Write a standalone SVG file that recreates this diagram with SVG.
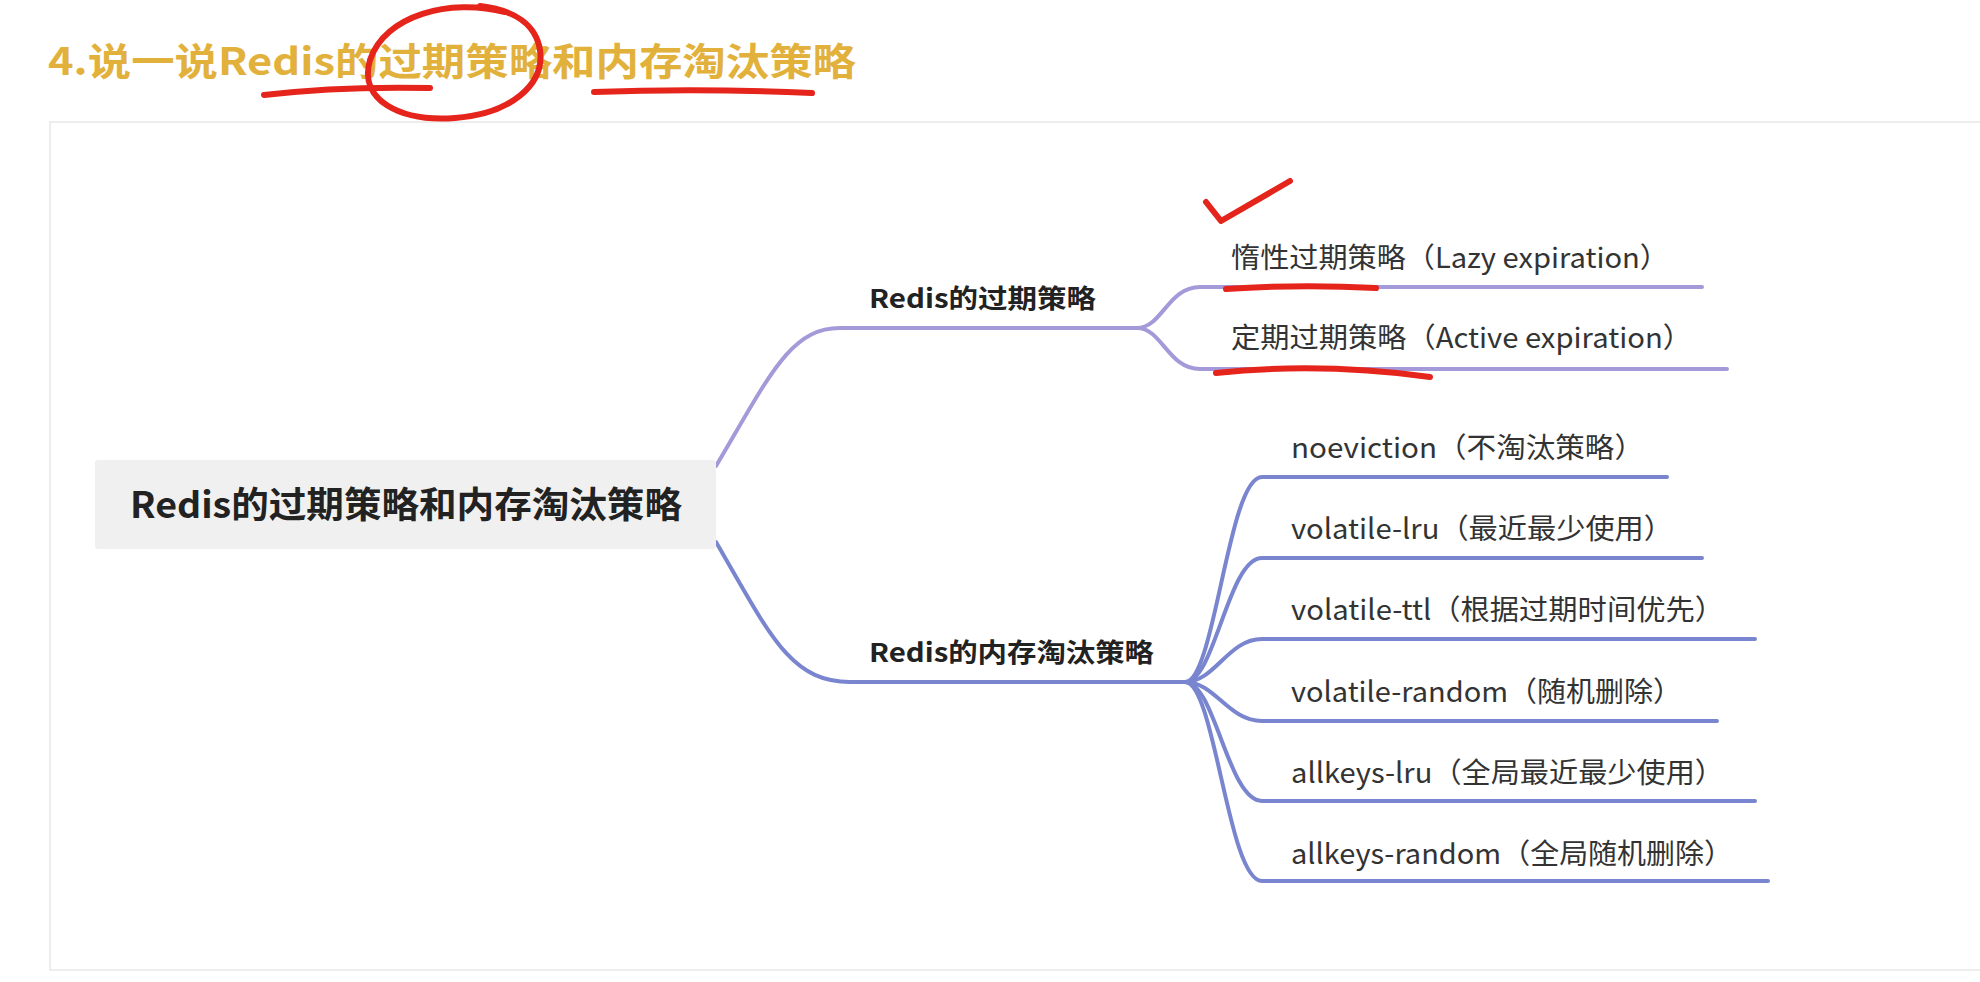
<svg xmlns="http://www.w3.org/2000/svg" width="1980" height="982" viewBox="0 0 1980 982">
<defs>
<style>
.title{font-family:"Noto Sans CJK SC","Noto Sans",sans-serif;font-weight:bold;fill:#e2b13c;font-size:38px}
.root{font-family:"Noto Sans CJK SC","Noto Sans",sans-serif;font-weight:bold;fill:#222;font-size:36px}
.main{font-family:"Noto Sans CJK SC","Noto Sans",sans-serif;font-weight:bold;fill:#222;font-size:26px}
.sub{font-family:"Noto Sans CJK SC","Noto Sans",sans-serif;fill:#333;font-size:28px}
.c1{fill:none;stroke:#a59ad9;stroke-width:4;stroke-linecap:round}
.c2{fill:none;stroke:#7985cf;stroke-width:4;stroke-linecap:round}
.red{fill:none;stroke:#e5241c;stroke-width:6;stroke-linecap:round;stroke-linejoin:round}
</style>
</defs>
<rect x="0" y="0" width="1980" height="982" fill="#ffffff"/>
<rect x="50" y="122" width="1960" height="848" fill="#ffffff" stroke="#e8e8e8" stroke-width="1.5"/>
<text class="title" x="48" y="75" textLength="808" lengthAdjust="spacingAndGlyphs">4.说一说Redis的过期策略和内存淘汰策略</text>

<g id="connectors">
<path class="c1" d="M716 466 C770 375 790 328 840 328 H1137"/>
<path class="c1" d="M1137 328 C1162 328 1168 287 1200 287 H1702"/>
<path class="c1" d="M1137 328 C1162 328 1168 369 1200 369 H1727"/>
<path class="c2" d="M716 542 C770 635 790 682 850 682 H1185"/>
<path class="c2" d="M1185 682 C1215 682 1228 477 1262 477 H1667"/>
<path class="c2" d="M1185 682 C1215 682 1228 558 1262 558 H1702"/>
<path class="c2" d="M1185 682 C1215 682 1228 639 1262 639 H1755"/>
<path class="c2" d="M1185 682 C1215 682 1228 721 1262 721 H1717"/>
<path class="c2" d="M1185 682 C1215 682 1228 801 1262 801 H1755"/>
<path class="c2" d="M1185 682 C1215 682 1228 881 1262 881 H1768"/>
</g>

<g id="root">
<rect x="95" y="460" width="621" height="89" rx="3" fill="#f0f0f0"/>
<text class="root" x="130" y="518" textLength="552" lengthAdjust="spacingAndGlyphs">Redis的过期策略和内存淘汰策略</text>
</g>
<g id="expire">
<text class="main" x="869" y="308" textLength="227" lengthAdjust="spacingAndGlyphs">Redis的过期策略</text>
</g>
<g id="eviction">
<text class="main" x="869" y="662" textLength="285" lengthAdjust="spacingAndGlyphs">Redis的内存淘汰策略</text>
</g>
<g id="lazy"><text class="sub" x="1231" y="268" textLength="438" lengthAdjust="spacingAndGlyphs">惰性过期策略（Lazy expiration）</text></g>
<g id="active"><text class="sub" x="1231" y="348" textLength="461" lengthAdjust="spacingAndGlyphs">定期过期策略（Active expiration）</text></g>
<g id="noeviction"><text class="sub" x="1291" y="458" textLength="353" lengthAdjust="spacingAndGlyphs">noeviction（不淘汰策略）</text></g>
<g id="vlru"><text class="sub" x="1291" y="539" textLength="382" lengthAdjust="spacingAndGlyphs">volatile-lru（最近最少使用）</text></g>
<g id="vttl"><text class="sub" x="1291" y="620" textLength="433" lengthAdjust="spacingAndGlyphs">volatile-ttl（根据过期时间优先）</text></g>
<g id="vrandom"><text class="sub" x="1291" y="702" textLength="391" lengthAdjust="spacingAndGlyphs">volatile-random（随机删除）</text></g>
<g id="alru"><text class="sub" x="1291" y="783" textLength="433" lengthAdjust="spacingAndGlyphs">allkeys-lru（全局最近最少使用）</text></g>
<g id="arandom"><text class="sub" x="1291" y="864" textLength="442" lengthAdjust="spacingAndGlyphs">allkeys-random（全局随机删除）</text></g>

<g id="annotations">
<path class="red" d="M264 95 Q340 86 430 88"/>
<path class="red" d="M505 12 C450 -2 385 15 370 60 C358 100 400 122 455 118 C510 114 545 85 540 50 C536 25 515 10 480 6"/>
<path class="red" d="M594 92 Q700 88 812 93"/>
<path class="red" d="M1206 202 L1221 221 L1290 181"/>
<path class="red" d="M1226 289 Q1300 284 1376 288"/>
<path class="red" d="M1216 373 Q1320 362 1430 377"/>
</g>
</svg>
